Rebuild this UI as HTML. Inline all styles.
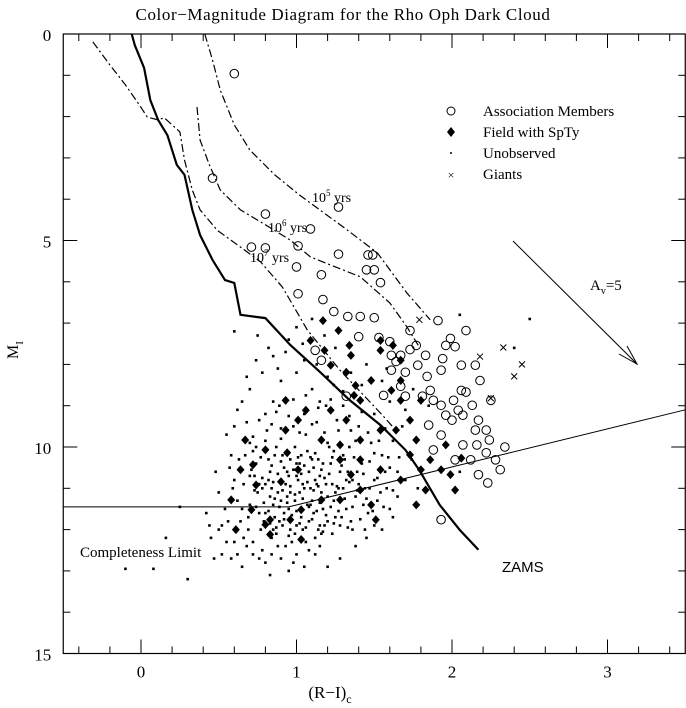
<!DOCTYPE html>
<html><head><meta charset="utf-8"><style>
body{margin:0;background:#fff;}
svg{display:block;font-family:"Liberation Serif",serif;}
</style></head><body>
<svg id="chart" width="686" height="708" viewBox="0 0 686 708" xmlns="http://www.w3.org/2000/svg">
<text x="343" y="20" text-anchor="middle" font-size="17" letter-spacing="0.6">Color−Magnitude Diagram for the Rho Oph Dark Cloud</text>
<g id="axes"></g>
<g id="marks"></g>
<g font-size="15">
<circle cx="451" cy="111" r="4" fill="none" stroke="#000"/>
<text x="483" y="116">Association Members</text>
<polygon points="451,127 455,132 451,137 447,132" fill="#000"/>
<text x="483" y="137">Field with SpTy</text>
<circle cx="451" cy="153" r="1" fill="#000"/>
<text x="483" y="158">Unobserved</text>
<text x="451" y="179" text-anchor="middle" font-size="12">×</text>
<text x="483" y="179">Giants</text>
</g>
<g stroke="#000" fill="none">
<line x1="513" y1="241" x2="637" y2="364"/>
<polyline points="619,354 637,364 627,346"/>
</g>
<text x="590" y="290" font-size="15">A<tspan font-size="10" dy="4">v</tspan><tspan dy="-4">=5</tspan></text>
<text x="312" y="202" font-size="14">10<tspan font-size="9" dy="-6">5</tspan><tspan dy="6"> yrs</tspan></text>
<text x="268" y="232" font-size="14">10<tspan font-size="9" dy="-6">6</tspan><tspan dy="6"> yrs</tspan></text>
<text x="250" y="262" font-size="14">10<tspan font-size="9" dy="-6">7</tspan><tspan dy="6"> yrs</tspan></text>
<text x="80" y="557" font-size="15">Completeness Limit</text>
<text x="502" y="572" font-size="15" font-family="Liberation Sans, sans-serif">ZAMS</text>
<text x="330" y="698" text-anchor="middle" font-size="17">(R−I)<tspan font-size="12" dy="5">c</tspan></text>
<text transform="translate(18,350) rotate(-90)" text-anchor="middle" font-size="16">M<tspan font-size="11" dy="5">I</tspan></text>
</svg>
<script>
const xTicks=[0,1,2,3];
const yTicks=[0,5,10,15];
const zams=[[-0.06,0],[-0.04,0.27],[0.02,0.82],[0.06,1.6],[0.11,2.08],[0.17,2.45],[0.23,3.17],[0.28,3.41],[0.33,4.26],[0.38,4.87],[0.46,5.47],[0.54,5.96],[0.6,6.03],[0.64,6.8],[0.8,6.88],[0.96,7.53],[1.15,8.18],[1.34,8.86],[1.54,9.47],[1.7,10.07],[1.79,10.56],[1.92,11.4],[2.05,12.01],[2.17,12.49]];
const iso7=[[-0.31,0.19],[-0.2,0.75],[-0.1,1.23],[-0.01,1.72],[0.04,2.01],[0.11,2.08],[0.15,2.03],[0.25,2.37],[0.28,3.05],[0.33,3.78],[0.38,4.26],[0.49,4.75],[0.64,5.16],[0.77,5.52],[0.91,6.13],[1.07,7.17],[1.28,8.14],[1.54,9.18],[1.65,9.64]];
const iso6=[[0.36,1.77],[0.38,2.57],[0.44,3.17],[0.51,3.78],[0.64,4.26],[0.8,4.62],[0.96,4.99],[1.09,5.4],[1.41,5.88],[1.6,6.51],[1.71,7.09],[1.79,7.58]];
const iso5=[[0.41,0],[0.46,0.63],[0.51,1.36],[0.6,2.2],[0.7,2.81],[0.86,3.41],[1.02,3.9],[1.31,4.7],[1.52,5.3],[1.71,6.27],[1.86,6.92]];
const completeness=[[-0.5,11.45],[0.95,11.45],[3.5,9.1]];
const members=[[0.6,0.96],[0.46,3.49],[0.8,4.36],[0.71,5.16],[0.8,5.18],[1.01,5.13],[1.27,4.19],[1.09,4.72],[1.27,5.33],[1.0,5.64],[1.16,5.83],[1.46,5.35],[1.49,5.35],[1.5,5.71],[1.45,5.71],[1.54,6.02],[1.01,6.29],[1.17,6.43],[1.24,6.72],[1.33,6.84],[1.41,6.84],[1.5,6.87],[1.4,7.33],[1.53,7.35],[1.61,7.78],[1.67,7.78],[1.6,7.45],[1.73,7.64],[1.64,7.93],[1.7,8.19],[1.78,8.02],[1.73,7.18],[1.91,6.94],[1.96,7.54],[1.94,7.86],[1.93,8.14],[1.86,8.63],[1.67,8.53],[1.7,8.77],[1.81,8.77],[1.84,8.29],[1.88,8.87],[1.93,8.99],[1.96,9.23],[2.0,9.35],[2.04,9.11],[2.01,8.87],[2.06,8.63],[2.06,8.02],[2.02,7.57],[1.99,7.37],[2.09,8.67],[2.07,9.23],[2.17,9.35],[2.15,9.59],[2.13,8.99],[2.07,9.95],[2.02,10.31],[2.12,10.31],[2.16,9.95],[2.22,9.59],[2.24,9.83],[2.22,10.14],[2.28,10.31],[2.34,10.0],[2.31,10.55],[2.23,10.87],[2.17,10.67],[1.93,9.71],[1.85,9.47],[1.88,10.07],[1.93,11.76],[2.15,8.02],[2.09,7.18],[2.18,8.39],[2.25,8.87],[1.83,7.78],[1.77,7.54],[1.61,8.14],[1.56,8.75],[1.16,7.9],[1.12,7.66],[1.32,8.77]];
const field=[[1.17,6.94],[1.27,7.18],[1.09,7.42],[1.18,7.66],[1.34,7.54],[1.35,7.78],[1.48,8.39],[1.41,8.87],[1.32,9.35],[1.28,9.95],[1.35,10.67],[1.41,10.31],[1.54,9.59],[1.38,8.51],[1.62,7.54],[1.67,7.9],[1.67,8.87],[1.64,9.59],[1.77,9.83],[1.8,10.55],[1.67,10.8],[1.86,10.31],[1.93,10.55],[1.99,10.67],[2.02,11.04],[1.73,9.35],[1.8,8.87],[1.67,8.39],[1.61,8.63],[1.54,7.42],[1.54,7.66],[1.37,8.75],[1.22,9.11],[1.16,9.83],[0.93,8.87],[0.93,9.59],[1.01,9.35],[0.94,10.14],[1.01,10.55],[0.96,11.76],[0.83,11.76],[0.74,10.92],[0.72,10.43],[0.9,10.84],[0.8,10.07],[0.67,9.83],[0.64,10.55],[0.58,11.28],[0.71,11.52],[0.8,11.88],[1.03,11.52],[1.16,11.28],[1.28,11.28],[1.41,11.04],[1.48,11.4],[1.51,11.76],[1.73,10.19],[1.83,11.04],[1.77,11.4],[2.06,10.27],[1.96,9.95],[1.32,8.19],[1.22,8.02],[1.41,9.83],[1.06,9.11],[1.28,10.31],[0.83,12.12],[1.03,12.24],[1.54,10.55],[0.61,12.0]];
const giants=[[1.79,6.92],[2.18,7.81],[2.33,7.59],[2.45,8.0],[2.4,8.29],[2.25,8.82]];
const unobserved=[[0.62,9.1],[0.7,8.6],[0.78,8.2],[0.85,7.8],[0.9,8.4],[0.95,7.4],[1.05,7.9],[1.1,8.6],[1.2,8.3],[1.25,7.6],[1.3,9.0],[1.45,8.0],[1.5,9.2],[1.6,8.9],[1.7,9.1],[1.75,8.6],[0.55,9.7],[0.58,10.2],[0.6,10.8],[0.62,11.3],[0.64,11.8],[0.66,12.2],[0.68,9.4],[0.7,9.9],[0.72,10.1],[0.73,10.7],[0.75,11.1],[0.76,11.6],[0.77,12.0],[0.78,12.5],[0.8,9.2],[0.81,9.6],[0.82,10.3],[0.83,10.6],[0.84,11.0],[0.85,11.4],[0.86,11.7],[0.87,12.1],[0.88,12.4],[0.89,9.0],[0.9,9.8],[0.91,10.2],[0.92,10.5],[0.93,10.9],[0.94,11.2],[0.95,11.5],[0.96,12.0],[0.97,12.3],[0.98,9.5],[0.99,10.0],[1.0,10.4],[1.01,10.8],[1.02,11.1],[1.03,11.7],[1.04,12.0],[1.05,9.2],[1.06,9.7],[1.07,10.1],[1.08,10.6],[1.09,11.0],[1.1,11.3],[1.11,11.6],[1.12,12.2],[1.13,9.4],[1.14,10.3],[1.15,10.7],[1.16,11.1],[1.17,11.5],[1.18,11.9],[1.19,9.0],[1.2,9.9],[1.22,10.4],[1.23,10.9],[1.24,11.3],[1.25,11.7],[1.27,9.6],[1.28,10.6],[1.3,11.0],[1.32,11.5],[1.34,10.0],[1.36,10.8],[1.38,11.2],[1.4,9.5],[1.42,10.4],[1.44,11.0],[1.46,11.6],[1.48,9.9],[1.5,10.8],[1.52,11.3],[1.55,10.2],[1.58,11.0],[1.6,10.5],[1.65,11.2],[1.7,10.8],[0.5,11.1],[0.52,11.9],[0.55,12.3],[0.58,12.7],[0.65,12.9],[0.72,12.6],[0.8,12.8],[0.9,12.7],[1.0,12.6],[1.08,12.5],[1.15,12.4],[0.45,12.2],[0.48,10.6],[0.7,11.4],[0.74,10.4],[0.79,11.8],[0.83,11.2],[0.87,10.0],[0.91,11.9],[0.95,10.7],[0.99,11.3],[1.03,10.2],[1.07,11.4],[1.11,10.5],[1.15,11.9],[1.19,10.9],[1.23,12.1],[1.27,11.0],[1.31,10.3],[1.35,11.8],[1.39,10.6],[1.43,11.4],[0.66,10.9],[0.69,11.7],[0.72,12.3],[0.76,10.9],[0.8,10.9],[0.84,12.2],[0.88,11.1],[0.92,11.6],[0.96,10.3],[1.0,11.9],[1.04,10.9],[1.08,11.8],[1.12,10.8],[1.16,12.1],[1.2,11.2],[1.24,10.1],[1.28,11.9],[1.33,10.6],[-0.1,12.95],[0.08,12.95],[0.3,13.2],[0.16,12.2],[0.25,11.45],[0.42,11.6],[0.6,7.2],[0.75,7.3],[1.0,7.1],[1.1,6.9],[0.85,8.9],[1.15,8.9],[1.35,9.6],[1.55,8.4],[1.85,9.0],[2.05,10.6],[2.4,7.6],[2.5,6.9],[2.05,6.8],
[0.71,10.55],[0.73,11.05],[0.74,11.45],[0.77,10.25],[0.78,10.75],[0.79,11.35],[0.81,10.05],[0.82,11.55],[0.83,11.85],[0.84,10.45],[0.85,10.85],[0.86,11.25],[0.87,11.95],[0.88,10.65],[0.89,11.45],[0.9,10.35],[0.91,11.05],[0.92,11.75],[0.93,10.15],[0.94,11.35],[0.95,12.15],[0.96,10.95],[0.97,11.65],[0.98,10.55],[0.99,11.15],[1.0,11.55],[1.01,10.25],[1.02,11.85],[1.03,10.65],[1.04,11.25],[1.05,10.45],[1.06,11.95],[1.07,10.85],[1.08,11.45],[1.09,10.25],[1.1,11.75],[1.11,11.05],[1.12,10.15],[1.13,11.55],[1.14,10.95],[1.15,11.35],[1.16,10.55],[1.17,12.05],[1.18,10.75],[1.19,11.65],[1.21,10.65],[1.22,11.45],[1.23,10.25],[1.24,11.85],[1.26,10.95],[1.27,11.55],[1.29,10.45],[1.31,11.25],[1.33,11.95],[1.34,10.85],[1.36,11.45],[1.37,10.25],[1.39,11.05],[1.41,11.75],[1.43,10.65],[1.45,11.25],[1.47,10.35],[1.49,11.55],[1.52,10.75],[1.56,11.45],[1.59,10.25],[1.62,11.05],
[0.72,9.75],[0.76,9.35],[0.8,9.85],[0.84,9.45],[0.87,9.15],[0.9,9.55],[0.95,9.25],[0.98,8.85],[1.02,9.65],[1.06,8.75],[1.1,9.45],[1.14,9.05],[1.18,9.65],[1.22,8.85],[1.26,9.35],[1.3,8.65],[1.34,9.25],[1.38,9.85],[1.42,9.15],[1.46,9.65],[1.5,10.15],[1.53,9.85],[1.57,9.55],[1.62,9.85],[1.66,10.25],[0.65,8.9],[0.68,8.3],[0.74,7.9],[0.82,7.6],[0.88,8.1],[0.93,7.7],[1.0,8.2],[1.04,7.5],[1.13,8.0],[1.18,7.3],[1.24,8.5],[1.35,8.2],[1.42,8.5],[1.58,8.1],[1.68,9.5],[1.74,10.3],[1.78,11.0],[1.62,11.7],[1.55,12.0],[1.45,12.2],[1.38,12.4],[1.28,12.7],[1.2,12.9],[0.62,12.6],[0.6,9.5],[0.57,10.5],[0.54,11.5],[0.59,11.0],[0.63,10.3],[0.65,11.5],[0.67,10.2],[0.69,12.0],[0.7,10.7],
[0.74,10.0],[0.78,11.0],[0.8,11.6],[0.82,10.8],[0.85,12.0],[0.86,10.2],[0.89,11.8],[0.9,11.3],[0.93,12.4],[0.94,10.6],[0.96,11.1],[0.99,12.1],[1.0,10.7],[1.02,10.4],[1.05,11.0],[1.06,12.3],[1.09,11.4],[1.1,10.3],[1.13,10.9],[1.14,12.0],[1.17,10.4],[1.2,11.8],[1.21,10.0],[1.25,11.1],[1.29,11.7],[1.3,10.2],[1.32,10.8],[1.36,12.0],[1.4,10.9],[1.44,12.0],[1.47,11.0],[1.5,11.9],[1.54,11.1],[1.57,10.6],[1.6,11.5],[1.65,10.6],[0.76,12.7],[0.84,12.6],[0.98,12.8],[1.12,12.6],[0.68,12.4],[0.6,12.3],[0.56,11.8],[0.52,12.6],[0.47,12.7],[0.44,11.9],[0.5,12.0],[0.95,13.0],[0.83,13.1],[1.05,12.9]];

const X=v=>141+(v+0.5)*155.5-77.75;
const Y=v=>34+v*41.3;
const NS='http://www.w3.org/2000/svg';
const ax=document.getElementById('axes');
const mk=document.getElementById('marks');
function el(tag,attrs,parent){const e=document.createElementNS(NS,tag);for(const k in attrs)e.setAttribute(k,attrs[k]);parent.appendChild(e);return e;}
const L=X(-0.5),R=X(3.5),T=Y(0),B=Y(15);
const frame=el('rect',{x:L,y:T,width:R-L,height:B-T,fill:'none',stroke:'#000','stroke-width':1.2},ax);


for(let i=-2;i<=17;i++){const v=i*0.2;if(v<-0.45||v>3.45)continue;const maj=Math.abs(v-Math.round(v))<1e-6;const len=maj?14:7;const x=X(v);
 const t1=el('line',{x1:x,x2:x,y1:B,y2:B-len,stroke:'#000'},ax);
 const t2=el('line',{x1:x,x2:x,y1:T,y2:T+len,stroke:'#000'},ax);}
for(let v=1;v<15;v++){const maj=v%5==0;const len=maj?14:7;const y=Y(v);
 const t1=el('line',{x1:L,x2:L+len,y1:y,y2:y,stroke:'#000'},ax);
 const t2=el('line',{x1:R,x2:R-len,y1:y,y2:y,stroke:'#000'},ax);}
xTicks.forEach(v=>{const t=el('text',{x:X(v),y:B+24,'text-anchor':'middle','font-size':17},ax);t.textContent=v;
 });
yTicks.forEach(v=>{const t=el('text',{x:L-12,y:Y(v)+7,'text-anchor':'end','font-size':17},ax);t.textContent=v;
 });
function path(arr,attrs,name){const d=arr.map((p,i)=>(i?'L':'M')+X(p[0]).toFixed(1)+','+Y(p[1]).toFixed(1)).join('');const e=el('path',Object.assign({d:d,fill:'none',stroke:'#000'},attrs),mk);
 }
unobserved.forEach(p=>{const c=el('rect',{x:X(p[0])-1.3,y:Y(p[1])-1.3,width:2.6,height:2.6,fill:'#000'},mk);
 });
path(completeness,{'stroke-width':1},'completeness-limit-line');
path(zams,{'stroke-width':2.2},'zams-line');
path(iso7,{'stroke-width':1.2,'stroke-dasharray':'8,3,2,3'},'isochrone-1e7');
path(iso6,{'stroke-width':1.2,'stroke-dasharray':'8,3,2,3'},'isochrone-1e6');
path(iso5,{'stroke-width':1.2,'stroke-dasharray':'8,3,2,3'},'isochrone-1e5');
members.forEach(p=>{const c=el('circle',{cx:X(p[0]),cy:Y(p[1]),r:4.3,fill:'none',stroke:'#000'},mk);
 });
field.forEach(p=>{const x=X(p[0]),y=Y(p[1]);const c=el('polygon',{points:`${x},${y-4.5} ${x+4},${y} ${x},${y+4.5} ${x-4},${y}`,fill:'#000'},mk);
 });
giants.forEach(p=>{const x=X(p[0]),y=Y(p[1]);const c=el('path',{d:`M${x-3},${y-3}L${x+3},${y+3}M${x-3},${y+3}L${x+3},${y-3}`,stroke:'#000'},mk);
 });
</script>
</body></html>
